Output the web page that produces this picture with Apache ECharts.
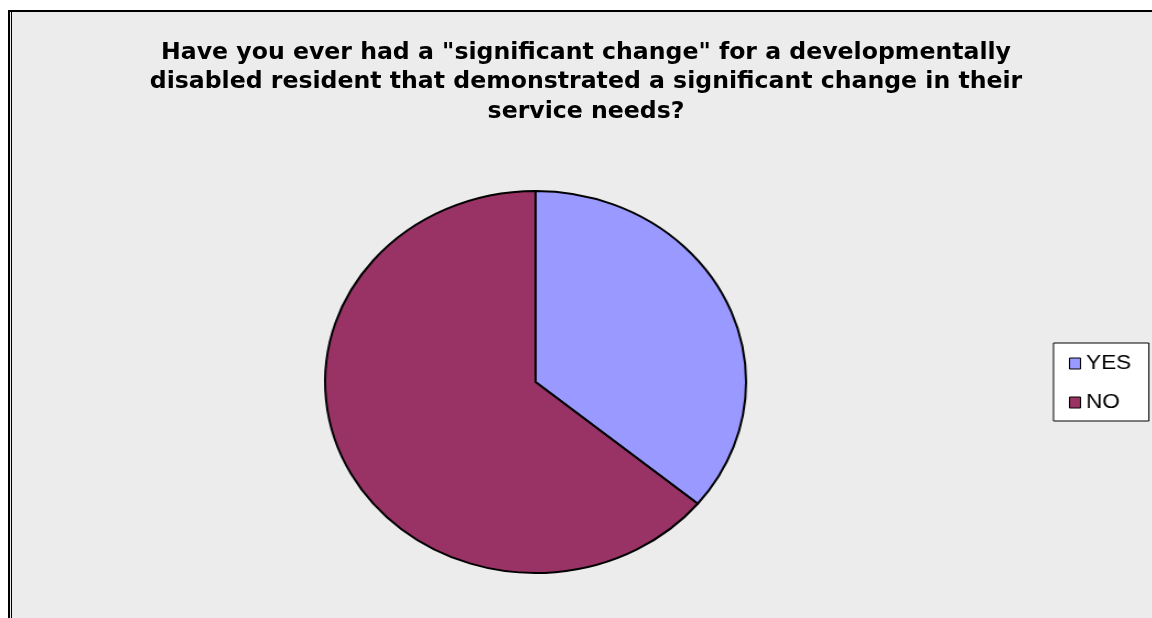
<!DOCTYPE html>
<html>
<head>
<meta charset="utf-8">
<script src="https://cdn.jsdelivr.net/npm/echarts@6/dist/echarts.min.js"></script>
<style>
  html, body { margin: 0; padding: 0; background: #ffffff; overflow: hidden; width: 1152px; height: 618px; }
  #main { position: absolute; left: 8px; top: 10px; width: 1150px; height: 620px; border-left: 2px solid #000; border-top: 2px solid #000; background: #ececec; }
  #pie { position: absolute; left: 0; top: 0; width: 1045px; height: 618px; transform: scaleX(1.102); transform-origin: 0 0; }
</style>
</head>
<body>
<div id="main"></div>
<div id="pie"></div>
<script>
const titleLines = [
  'Have you ever had a "significant change" for a developmentally',
  'disabled resident that demonstrated a significant change in their',
  'service needs?'
];
const categories = ['YES', 'NO'];
const values = [36, 64];
const colors = ['#9999ff', '#993366'];

const main = echarts.init(document.getElementById('main'), null, { renderer: 'canvas' });
main.setOption({
  animation: false,
  backgroundColor: '#ececec',
  title: {
    text: titleLines.join('\n'),
    left: 576,
    top: 26,
    padding: 0,
    textAlign: 'center',
    textStyle: {
      fontFamily: 'DejaVu Sans',
      fontWeight: 'bold',
      fontSize: 23.6,
      lineHeight: 29.5,
      color: '#000'
    }
  },
  graphic: [{
    type: 'line',
    shape: { x1: 1.5, y1: 0, x2: 1.5, y2: 620 },
    style: { stroke: '#000', lineWidth: 1 },
    silent: true
  }]
});

const pie = echarts.init(document.getElementById('pie'), null, { renderer: 'canvas' });
pie.setOption({
  animation: false,
  color: colors,
  legend: {
    orient: 'vertical',
    left: 956,
    top: 343,
    padding: [10, 16, 8, 14],
    backgroundColor: '#ffffff',
    borderColor: '#000',
    borderWidth: 1,
    itemWidth: 10,
    itemHeight: 11,
    itemGap: 18,
    icon: 'rect',
    selectedMode: false,
    itemStyle: { borderColor: '#000', borderWidth: 1 },
    textStyle: { fontFamily: 'Liberation Sans', fontSize: 20.5, lineHeight: 20, color: '#000', padding: [0, 0, 0, 0] },
    data: categories
  },
  series: [{
    type: 'pie',
    center: [486, 382],
    radius: 191,
    startAngle: 90,
    clockwise: true,
    label: { show: false },
    labelLine: { show: false },
    emphasis: { disabled: true },
    silent: true,
    itemStyle: { borderColor: '#000', borderWidth: 2 },
    data: categories.map((c, i) => ({ name: c, value: values[i] }))
  }]
});
</script>
</body>
</html>
